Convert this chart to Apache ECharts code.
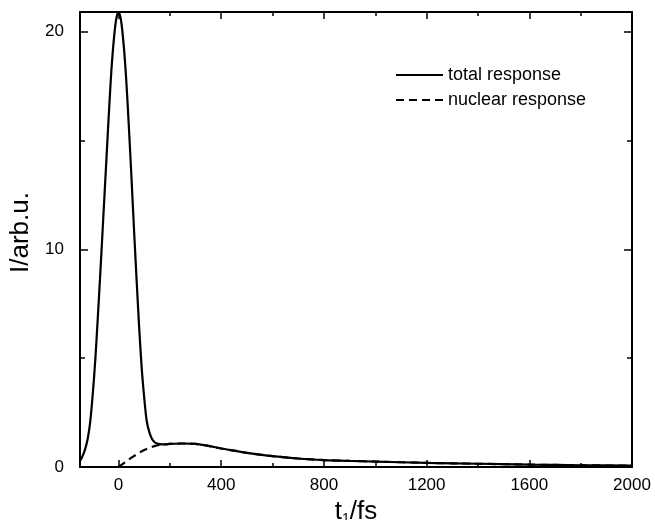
<!DOCTYPE html>
<html>
<head>
<meta charset="utf-8">
<script src="https://cdn.jsdelivr.net/npm/echarts@6/dist/echarts.min.js"></script>
<style>html,body{margin:0;padding:0;background:#fff}#c{width:655px;height:520px}</style>
</head>
<body>
<div id="c"></div>
<script>
const tTotal = [-150,-140,-130,-120,-110,-100,-90,-80,-70,-60,-50,-40,-30,-20,-10,0,10,20,30,40,50,60,70,80,90,100,110,120,130,140,150,160,180,200,250,300,350,400,450,500,550,600,700,800,900,1000,1200,1400,1600,1800,2000];
const totalResponse = [0.28,0.5,0.82,1.3,2.1,3.4,5.0,7.0,9.1,11.3,13.5,15.7,17.8,19.4,20.5,20.9,20.5,19.4,17.8,15.7,13.4,11.0,8.7,6.5,4.6,3.2,2.1,1.6,1.3,1.15,1.08,1.05,1.04,1.06,1.08,1.06,0.97,0.85,0.75,0.65,0.57,0.5,0.39,0.32,0.28,0.25,0.19,0.15,0.11,0.08,0.06];
const tNuclear = [0,20,40,60,80,100,120,140,160,180,200,250,300,350,400,450,500,550,600,700,800,900,1000,1200,1400,1600,1800,2000];
const nuclearResponse = [0,0.17,0.34,0.5,0.65,0.78,0.88,0.96,1.01,1.04,1.06,1.08,1.06,0.97,0.85,0.75,0.65,0.57,0.5,0.39,0.32,0.28,0.25,0.19,0.15,0.11,0.08,0.06];
const xMajorTicks = [0,400,800,1200,1600,2000];
const xMinorTicks = [200,600,1000,1400,1800];
const yMajorTicks = [0,10,20];
const yMinorTicks = [5,15];
const seriesNames = ['total response','nuclear response'];

const FONT = "'Liberation Sans', Arial, Helvetica, sans-serif";
const X_MIN = -150, X_MAX = 2000, Y_MIN = 0, Y_MAX = 20.9;
const gridPos = {left: 80, right: 23, top: 12, bottom: 53, outerBoundsMode: 'none'};
const axisLineOn = {show: true, onZero: false, lineStyle: {color: '#000', width: 2}};
const axisLineOff = {show: false, onZero: false};

function xAx(grid, pos, ticks, len, labels, line, name) {
  const a = {
    type: 'value', gridIndex: grid, position: pos, min: X_MIN, max: X_MAX,
    axisLine: line ? axisLineOn : axisLineOff,
    axisTick: {show: true, inside: true, length: len, customValues: ticks, lineStyle: {color: '#000', width: 1.5}},
    axisLabel: labels ? {show: true, customValues: ticks, formatter: v => String(v), color: '#000', fontSize: 17, fontFamily: FONT, margin: 10} : {show: false},
    splitLine: {show: false}
  };
  if (name) {
    a.name = '{a|t}{s|1}{a|/fs}';
    a.nameLocation = 'middle';
    a.nameGap = 30;
    a.nameTextStyle = {rich: {
      a: {fontSize: 26, fontFamily: FONT, color: '#000'},
      s: {fontSize: 14, fontFamily: FONT, color: '#000', verticalAlign: 'bottom', padding: [14, 0, 0, 0]}
    }};
  }
  return a;
}
function yAx(grid, pos, ticks, len, labels, line, name) {
  const a = {
    type: 'value', gridIndex: grid, position: pos, min: Y_MIN, max: Y_MAX,
    axisLine: line ? axisLineOn : axisLineOff,
    axisTick: {show: true, inside: true, length: len, customValues: ticks, lineStyle: {color: '#000', width: 1.5}},
    axisLabel: labels ? {show: true, customValues: ticks, color: '#000', fontSize: 17, fontFamily: FONT, margin: 16} : {show: false},
    splitLine: {show: false}
  };
  if (name) {
    a.name = name;
    a.nameLocation = 'middle';
    a.nameGap = 45;
    a.nameTextStyle = {fontSize: 26, fontFamily: FONT, color: '#000', padding: [0, 0, 0, 14]};
  }
  return a;
}

const chart = echarts.init(document.getElementById('c'), null, {renderer: 'canvas'});
chart.setOption({
  backgroundColor: '#fff',
  animation: false,
  grid: [Object.assign({}, gridPos), Object.assign({}, gridPos)],
  xAxis: [
    xAx(0, 'bottom', xMajorTicks, 7, true, true, true),
    xAx(0, 'top', xMajorTicks, 7, false, true, false),
    xAx(1, 'bottom', xMinorTicks, 4, false, false, false),
    xAx(1, 'top', xMinorTicks, 4, false, false, false)
  ],
  yAxis: [
    yAx(0, 'left', yMajorTicks, 8, true, true, 'I/arb.u.'),
    yAx(0, 'right', yMajorTicks, 8, false, true, null),
    yAx(1, 'left', yMinorTicks, 5, false, false, null),
    yAx(1, 'right', yMinorTicks, 5, false, false, null)
  ],
  legend: {
    orient: 'vertical', left: 395, top: 66, padding: 0,
    itemWidth: 47, itemHeight: 18, itemGap: 7,
    itemStyle: {opacity: 0},
    textStyle: {fontSize: 18, fontFamily: FONT, color: '#000'},
    data: seriesNames
  },
  series: [
    {
      name: seriesNames[1], type: 'line', xAxisIndex: 0, yAxisIndex: 0,
      data: tNuclear.map((t, i) => [t, nuclearResponse[i]]),
      showSymbol: false, symbol: 'none', smooth: 0.3, z: 2,
      lineStyle: {color: '#000', width: 2.2, type: [8, 5]}, itemStyle: {color: '#000'}
    },
    {
      name: seriesNames[0], type: 'line', xAxisIndex: 0, yAxisIndex: 0,
      data: tTotal.map((t, i) => [t, totalResponse[i]]),
      showSymbol: false, symbol: 'none', smooth: 0.3, z: 3,
      lineStyle: {color: '#000', width: 2.2, type: 'solid'}, itemStyle: {color: '#000'}
    }
  ]
});
</script>
</body>
</html>
